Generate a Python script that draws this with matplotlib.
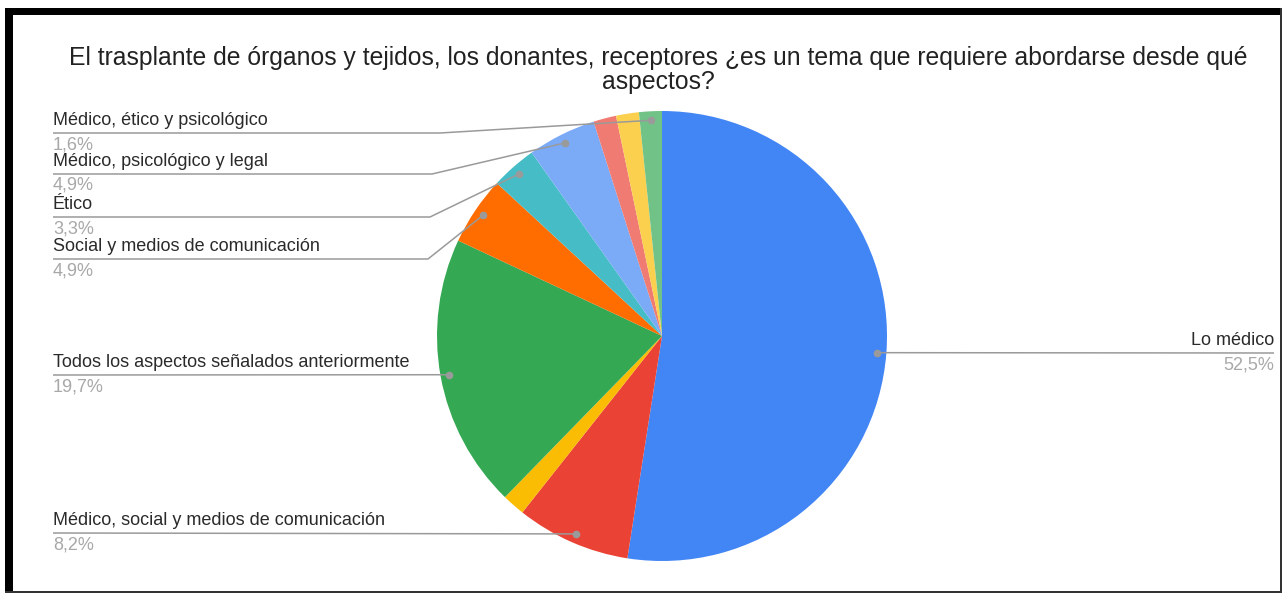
# Pie chart: trasplante de órganos - aspectos (Google Charts look)

import numpy as np
import matplotlib
matplotlib.use("Agg")
import matplotlib.pyplot as plt
from matplotlib.patches import Rectangle

plt.rcParams['font.family'] = ['Liberation Sans', 'DejaVu Sans']

W, H = 1285, 594

title = ("El trasplante de órganos y tejidos, los donantes, receptores ¿es un tema que requiere abordarse desde qué\n"
         "aspectos?")

categories = [
    "Lo médico",
    "Médico, social y medios de comunicación",
    "Médico y legal",
    "Todos los aspectos señalados anteriormente",
    "Social y medios de comunicación",
    "Ético",
    "Médico, psicológico y legal",
    "Médico y ético",
    "Psicológico",
    "Médico, ético y psicológico",
]
counts = [32, 5, 1, 12, 3, 2, 3, 1, 1, 1]
colors = ["#4285F4", "#EA4335", "#FBBC04", "#34A853", "#FF6D01",
          "#46BDC6", "#7BAAF7", "#F07B72", "#FCD04F", "#71C287"]
# which slices get an outside label (Google hides the crowded ones)
shown = [True, True, False, True, True, True, True, False, False, True]

# label layout: (side, y of the leader underline in px, x of bend)
label_pos = {
    0: ("right", 353, None),
    1: ("left", 533, None),
    3: ("left", 375, None),
    4: ("left", 259, 428),
    5: ("left", 217, 430),
    6: ("left", 174, 432),
    9: ("left", 133, 440),
}

cx, cy, R = 662, 336, 225

fig = plt.figure(figsize=(W / 100, H / 100), dpi=100)
ax = fig.add_axes([0, 0, 1, 1])


def Y(py):
    return H - py


ax.pie(counts, colors=colors, startangle=90, counterclock=False,
       center=(cx, Y(cy)), radius=R, wedgeprops=dict(linewidth=0))
ax.set_xlim(0, W)
ax.set_ylim(0, H)
ax.set_aspect("auto")
ax.axis("off")

total = sum(counts)
frac = np.array(counts) / total
cum = np.concatenate([[0], np.cumsum(frac)])

line_col = "#9a9a9a"
fs = 13
for i, name in enumerate(categories):
    if not shown[i]:
        continue
    mid = (cum[i] + cum[i + 1]) / 2 * 2 * np.pi
    dx = cx + 0.96 * R * np.sin(mid)
    dy = cy - 0.96 * R * np.cos(mid)
    pct = f"{frac[i] * 100:.1f}%".replace(".", ",")
    side, ly, bend = label_pos[i]
    if side == "right":
        xs = [dx, 1274]
        ys = [dy, ly]
        ax.text(1274, Y(ly - 4), name, ha="right", va="bottom", fontsize=fs, color="#2a2a2a")
        ax.text(1274, Y(ly + 3), pct, ha="right", va="top", fontsize=fs, color="#a8a8a8")
    else:
        if bend is None:
            xs = [53, dx]
            ys = [ly, dy]
        else:
            xs = [53, bend, dx]
            ys = [ly, ly, dy]
        ax.text(53, Y(ly - 4), name, ha="left", va="bottom", fontsize=fs, color="#2a2a2a")
        ax.text(53, Y(ly + 3), pct, ha="left", va="top", fontsize=fs, color="#a8a8a8")
    ax.plot(xs, [Y(v) for v in ys], color=line_col, lw=1.1, solid_capstyle="butt")
    ax.plot(dx, Y(dy), "o", color=line_col, ms=4.5)

ax.text(658, Y(70), title, ha="center", va="center", fontsize=17.8,
        color="#222222", linespacing=1.0)

# frame around the screenshot
ax.add_patch(Rectangle((5, Y(592)), 8, 592 - 8, color="black", lw=0))
ax.add_patch(Rectangle((5, Y(15)), 1282 - 5, 7, color="black", lw=0))
ax.add_patch(Rectangle((1280, Y(592)), 2, 584, color="#333333", lw=0))
ax.add_patch(Rectangle((5, Y(593)), 1277, 2, color="#333333", lw=0))

fig.savefig("out.png", dpi=100)
